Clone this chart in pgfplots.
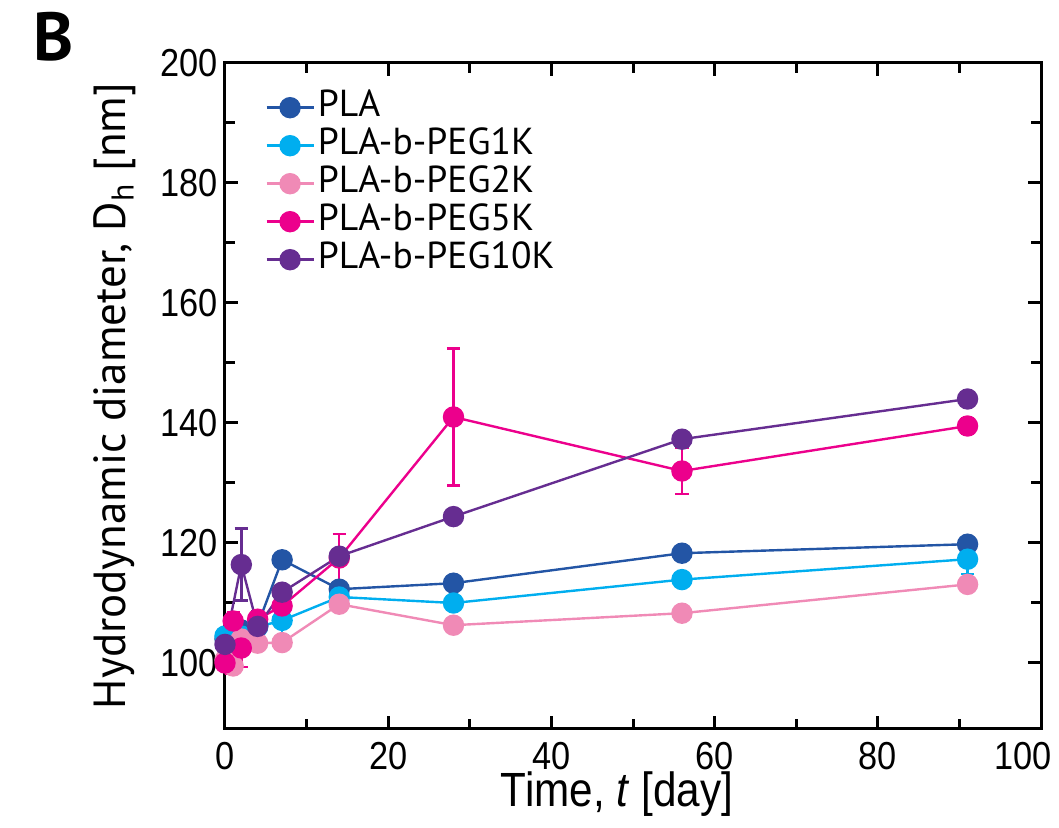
\documentclass[border=0pt]{standalone}
\usepackage{fontspec}
\setmainfont{Liberation Sans}
\newfontfamily\narrowf[FakeStretch=0.88]{Liberation Sans}
\newfontfamily\myr{PT Sans}
\usepackage{pgfplots}
\usepackage{pgfplotstable}
\pgfplotsset{compat=1.18}
\definecolor{cPLA}{RGB}{35,85,165}
\definecolor{cKa}{RGB}{0,174,239}
\definecolor{cKb}{RGB}{240,138,182}
\definecolor{cKc}{RGB}{236,0,140}
\definecolor{cKd}{RGB}{102,45,145}
\pgfplotsset{eb/.style={error bars/.cd, y dir=both, y explicit,
    error bar style={line width=1.2pt},
    error mark options={line width=1.2pt, mark size=3.3pt, rotate=90}}}
\pgfplotstableread{
t y e
0 104.0 1.0
1 105.0 1.0
2 105.5 1.0
4 106.3 1.0
7 117.2 0.8
14 112.3 0.8
28 113.3 0.8
56 118.3 0.8
91 119.8 0.8
}\dataPLA
\pgfplotstableread{
t y e
0 104.5 2.0
1 104.0 1.5
2 104.5 1.5
4 106.0 1.0
7 107.1 2.5
14 111.0 1.0
28 110.0 0.8
56 113.9 0.8
91 117.3 2.5
}\dataKa
\pgfplotstableread{
t y e
0 100.5 1.0
1 99.5 1.0
2 104.0 1.0
4 103.3 1.0
7 103.4 0.8
14 109.8 1.0
28 106.3 0.8
56 108.3 0.8
91 113.1 0.8
}\dataKb
\pgfplotstableread{
t y e
0 100.0 1.8
1 107.0 1.5
2 102.5 3.2
4 107.3 1.0
7 109.5 2.0
14 117.5 4.0
28 141.0 11.4
56 132.0 3.8
91 139.5 1.3
}\dataKc
\pgfplotstableread{
t y e
0 103.1 1.0
2 116.4 6.0
4 106.1 2.5
7 111.8 1.0
14 117.8 1.0
28 124.4 1.2
56 137.3 1.2
91 144.0 0.8
}\dataKd
\begin{document}
\begin{tikzpicture}
\begin{axis}[name=ax,
  scale only axis, width=408pt, height=333pt,
  xmin=0, xmax=100, ymin=89, ymax=200,
  xtick={0,20,...,80}, minor xtick={10,30,...,90},
  extra x ticks={100}, extra x tick labels={100},
  extra x tick style={xticklabel style={xshift=-9pt}},
  ytick={100,120,...,200}, minor ytick={110,130,...,190},
  tick align=inside, xtick pos=both, ytick pos=both,
  axis line style={line width=1.5pt},
  every tick/.style={black, line width=1.5pt},
  major tick length=6.5pt, minor tick length=5pt,
  /pgf/number format/assume math mode=true,
  tick label style={font=\narrowf\fontsize{19.5}{20}\selectfont},
  xticklabel style={inner sep=1pt, yshift=-5.5pt},
  xlabel={Time, \textit{t} [day]},
  xlabel style={font=\narrowf\fontsize{24}{26}\selectfont, inner sep=0.5pt, at={(axis description cs:0.5,0)}, anchor=center, yshift=-32.5pt, xshift=-8pt},
  ylabel={Hydrodynamic diameter, D\textsubscript{h} [nm]},
  ylabel style={font=\myr\fontsize{22.5}{24}\selectfont, at={(axis description cs:0,0.5)}, anchor=center, rotate=0, yshift=55pt},
  legend style={at={(axis description cs:0.049,0.962)}, anchor=north west, draw=none, fill=none,
    font=\myr\fontsize{18.8}{19}\selectfont, row sep=0pt, inner sep=0pt,
    nodes={inner sep=1.5pt, text height=12.5pt, text depth=3.5pt}},
  legend cell align=left,
  legend image code/.code={\draw[mark repeat=2,mark phase=2,#1] plot coordinates {(0pt,0pt)(11.75pt,0pt)(23.5pt,0pt)};},
  every axis plot/.append style={line width=1.2pt, mark=*, mark size=4.75pt},
]
\addplot[color=cPLA, mark options={fill=cPLA, draw=cPLA}, eb] table[x=t, y=y, y error=e]{\dataPLA};
\addlegendentry{PLA}
\addplot[color=cKa, mark options={fill=cKa, draw=cKa}, eb] table[x=t, y=y, y error=e]{\dataKa};
\addlegendentry{PLA-b-PEG1K}
\addplot[color=cKb, mark options={fill=cKb, draw=cKb}, eb] table[x=t, y=y, y error=e]{\dataKb};
\addlegendentry{PLA-b-PEG2K}
\addplot[color=cKc, mark options={fill=cKc, draw=cKc}, eb] table[x=t, y=y, y error=e]{\dataKc};
\addlegendentry{PLA-b-PEG5K}
\addplot[color=cKd, mark options={fill=cKd, draw=cKd}, eb] table[x=t, y=y, y error=e]{\dataKd};
\addlegendentry{PLA-b-PEG10K}
\end{axis}
\node[anchor=north west, inner sep=0pt, font=\myr\bfseries\fontsize{34}{36}\selectfont] at ([shift={(-96pt,25.5pt)}]ax.north west) {B};
\pgfresetboundingbox
\path[use as bounding box] ([shift={(-112.5pt,-49.5pt)}]ax.south west) rectangle ([shift={(9pt,31.5pt)}]ax.north east);
\end{tikzpicture}
\end{document}
